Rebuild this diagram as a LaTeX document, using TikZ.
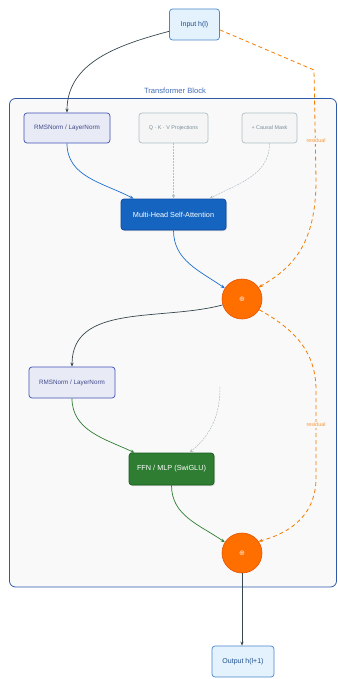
\documentclass[tikz,border=0pt]{standalone}
\usepackage{fontspec}
\setmainfont{Liberation Sans}
\newfontfamily\djv{DejaVu Sans}
\usetikzlibrary{arrows.meta,shadows}
\definecolor{ioFill}{HTML}{E3F2FD}
\definecolor{ioDraw}{HTML}{4A86C8}
\definecolor{ioText}{HTML}{1F4E8C}
\definecolor{contDraw}{HTML}{2F5AA8}
\definecolor{contFill}{HTML}{F9F9F9}
\definecolor{contText}{HTML}{3F6DB5}
\definecolor{normFill}{HTML}{E8EAF6}
\definecolor{normDraw}{HTML}{3F51B5}
\definecolor{normText}{HTML}{3F4A8A}
\definecolor{auxFill}{HTML}{F5F5F5}
\definecolor{auxDraw}{HTML}{B0BEC5}
\definecolor{auxText}{HTML}{78909C}
\definecolor{attFill}{HTML}{1565C0}
\definecolor{attDraw}{HTML}{0D47A1}
\definecolor{ffnFill}{HTML}{2E7D32}
\definecolor{ffnDraw}{HTML}{1B5E20}
\definecolor{addFill}{HTML}{FF6F00}
\definecolor{addDraw}{HTML}{E65100}
\definecolor{resCol}{HTML}{F57C00}
\definecolor{darkCol}{HTML}{37474F}
\definecolor{blueCol}{HTML}{1E6FD0}
\definecolor{greenCol}{HTML}{2E7D32}
\tikzset{
  box/.style={rectangle, rounded corners=3pt, line width=0.7pt, align=center, inner sep=0pt},
  iobox/.style={box, fill=ioFill, draw=ioDraw, text=ioText, minimum width=50pt, minimum height=31pt, font=\fontsize{7}{8}\selectfont},
  normbox/.style={box, fill=normFill, draw=normDraw, text=normText, minimum width=86pt, minimum height=30pt, font=\fontsize{6.3}{7}\selectfont},
  auxbox/.style={box, fill=auxFill, draw=auxDraw, text=auxText, minimum height=30pt, font=\fontsize{5.4}{6}\selectfont},
  mainbox/.style={box, text=white, drop shadow={opacity=0.3, shadow xshift=1pt, shadow yshift=-1pt}, font=\fontsize{7.3}{8}\selectfont},
  addnode/.style={circle, fill=addFill, draw=addDraw, line width=0.6pt, minimum size=40pt, inner sep=0pt, text=white!85!addFill, font=\djv\fontsize{7}{8}\selectfont},
  arr/.style={-{Stealth[length=4pt,width=3.2pt]}, line width=0.7pt},
  darkarr/.style={arr, draw=darkCol},
  bluearr/.style={arr, draw=blueCol},
  greenarr/.style={arr, draw=greenCol},
  grayarr/.style={-{Stealth[length=4pt,width=3.2pt]}, draw=auxDraw, line width=0.5pt, dash pattern=on 2pt off 1pt},
  resarr/.style={-{Stealth[length=4pt,width=3.2pt]}, draw=resCol, line width=0.8pt, dash pattern=on 4pt off 3pt},
  reslabel/.style={text=resCol!80, fill=contFill, inner sep=0.6pt, font=\fontsize{5.4}{6}\selectfont}
}
\begin{document}
\begin{tikzpicture}[x=1pt,y=1pt]
\useasboundingbox (0,0) rectangle (337,-679);
% container
\draw[draw=contDraw, fill=contFill, line width=0.8pt, rounded corners=6pt] (9.5,-98.5) rectangle (336.5,-587);
\node[text=contText, font=\fontsize{7.6}{8}\selectfont] (title) at (175,-91) {Transformer Block};
% nodes
\node[iobox] (in) at (194.5,-24.5) {Input h(l)};
\node[normbox] (rms1) at (67,-128) {RMSNorm / LayerNorm};
\node[auxbox, minimum width=69pt] (qkv) at (173.5,-128) {Q · K · V Projections};
\node[auxbox, minimum width=55pt] (mask) at (269.5,-128) {+ Causal Mask};
\node[mainbox, fill=attFill, draw=attDraw, minimum width=105pt, minimum height=31pt] (mhsa) at (173.5,-214.5) {Multi-Head Self-Attention};
\node[addnode] (c1) at (242,-299) {⊕};
\node[normbox, minimum height=31pt] (rms2) at (72,-382.5) {RMSNorm / LayerNorm};
\node[mainbox, fill=ffnFill, draw=ffnDraw, minimum width=85pt, minimum height=32pt] (ffn) at (171.5,-469) {FFN / MLP (SwiGLU)};
\node[addnode] (c2) at (242,-553) {⊕};
\node[iobox, minimum width=62pt] (out) at (243,-661.5) {Output h(l+1)};
\coordinate (ghost) at (220,-387);
% residual paths
\draw[resarr] (in.-12) -- (314,-70) -- (316,-180) .. controls (316,-245) and (292,-268) .. (c1.35);
\node[reslabel] (r1) at (316,-141) {residual};
\draw[resarr] (c1.-32) .. controls (292,-328) and (316,-350) .. (316,-390) -- (316,-478) .. controls (316,-512) and (294,-532) .. (c2.35);
\node[reslabel] (r2) at (316,-425) {residual};
% main flow
\draw[darkarr] (in.195) to[out=195,in=90] (rms1.north);
\draw[bluearr] (rms1.south) to[out=-90,in=152] ([xshift=-40pt]mhsa.north);
\draw[grayarr] (qkv.south) -- (mhsa.north);
\draw[grayarr] (mask.south) to[out=-90,in=28] ([xshift=36pt]mhsa.north);
\draw[bluearr] (mhsa.south) to[out=-90,in=145] (c1.148);
\draw[darkarr] (c1.197) to[out=195,in=90] (rms2.north);
\draw[greenarr] (rms2.south) to[out=-90,in=155] ([xshift=-37pt]ffn.north);
\draw[grayarr] (ghost) to[out=-90,in=40] ([xshift=18pt]ffn.north);
\draw[greenarr] (ffn.south) to[out=-90,in=145] (c2.148);
\draw[darkarr] (c2.south) -- (out.north -| c2.south);
\end{tikzpicture}
\end{document}
